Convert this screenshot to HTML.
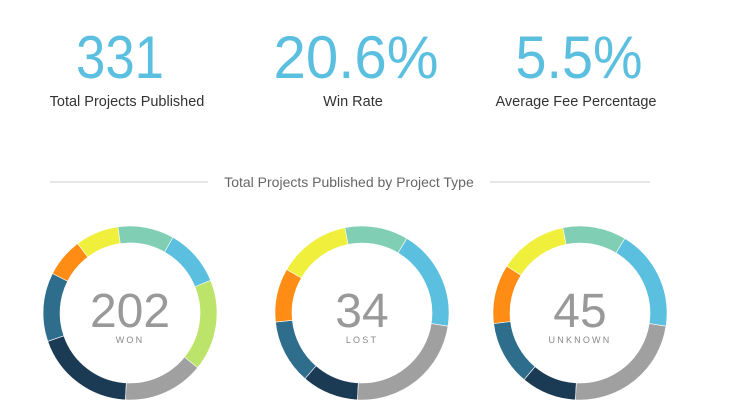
<!DOCTYPE html>
<html><head><meta charset="utf-8"><style>
body{margin:0;width:730px;height:420px;background:#fff;overflow:hidden;font-family:"Liberation Sans",sans-serif}
svg{display:block}
</style></head><body>
<svg id="chart" width="730" height="420">
<g>
<text x="120" y="78" text-anchor="middle" font-size="60" fill="#5bbfdf" textLength="88" lengthAdjust="spacingAndGlyphs">331</text>
<text x="127" y="106" text-anchor="middle" font-size="14.5" fill="#333">Total Projects Published</text>
</g>
<g>
<text x="356" y="78" text-anchor="middle" font-size="60" fill="#5bbfdf" textLength="165" lengthAdjust="spacingAndGlyphs">20.6%</text>
<text x="353" y="106" text-anchor="middle" font-size="14.5" fill="#333">Win Rate</text>
</g>
<g>
<text x="579" y="78" text-anchor="middle" font-size="60" fill="#5bbfdf" textLength="127" lengthAdjust="spacingAndGlyphs">5.5%</text>
<text x="576" y="106" text-anchor="middle" font-size="14.5" fill="#333">Average Fee Percentage</text>
</g>
<line x1="50" y1="182" x2="208" y2="182" stroke="#ccc"/>
<line x1="490" y1="182" x2="650" y2="182" stroke="#ccc"/>
<text x="349" y="187" text-anchor="middle" font-size="14" fill="#666">Total Projects Published by Project Type</text>
<g id="donuts"></g>
</svg>
<script>
// segment order: navy, steel, orange, yellow, mint, blue, lime, gray (degrees-share)
const categories = ["navy","steel","orange","yellow","mint","blue","lime","gray"];
const colors = ["#1b3a54","#2f6d8c","#ff8c14","#f0f03c","#80cfb4","#5bbfdf","#bce36a","#a0a0a0"];
const wonValues = [68,46,26,29,37.6,38.4,61,54];
const lostValues = [38,43,36,48.6,42.4,67.7,0,84.3];
const unknownValues = [37,43,39.6,46,42.4,67.7,0,84.3];
const donutTotals = ["202","34","45"];
const donutLabels = ["WON","LOST","UNKNOWN"];
const donutSeries = [wonValues, lostValues, unknownValues];
const centersX = [130,362,580];
const cy = 313, R = 87, r = 70, startDeg = 183;
const NS = "http://www.w3.org/2000/svg";
const root = document.getElementById("donuts");
function pt(rad, deg){const a=(deg-90)*Math.PI/180;return [rad*Math.cos(a),rad*Math.sin(a)];}
donutSeries.forEach((vals,i)=>{
  const cx=centersX[i];
  const g=document.createElementNS(NS,"g");
  
  
  const sum=vals.reduce((a,b)=>a+b,0);
  let ang=startDeg;
  vals.forEach((v,j)=>{
    if(v<=0) return;
    const sweep=v/sum*360, a0=ang, a1=ang+sweep; ang=a1;
    const [x0,y0]=pt(R,a0),[x1,y1]=pt(R,a1),[x2,y2]=pt(r,a1),[x3,y3]=pt(r,a0);
    const large=sweep>180?1:0;
    const p=document.createElementNS(NS,"path");
    p.setAttribute("d",`M${cx+x0},${cy+y0}A${R},${R} 0 ${large} 1 ${cx+x1},${cy+y1}L${cx+x2},${cy+y2}A${r},${r} 0 ${large} 0 ${cx+x3},${cy+y3}Z`);
    p.setAttribute("fill",colors[j]);
    p.setAttribute("stroke","#fff");p.setAttribute("stroke-width","0.6");
    
    
    g.appendChild(p);
  });
  const t=document.createElementNS(NS,"text");
  t.setAttribute("x",cx);t.setAttribute("y",327);t.setAttribute("text-anchor","middle");
  t.setAttribute("font-size","48");t.setAttribute("fill","#999");
  t.textContent=donutTotals[i];
  
  
  g.appendChild(t);
  const l=document.createElementNS(NS,"text");
  l.setAttribute("x",cx);l.setAttribute("y",343);l.setAttribute("text-anchor","middle");
  l.setAttribute("font-size","9");l.setAttribute("fill","#888");l.setAttribute("letter-spacing","2.2");
  l.textContent=donutLabels[i];
  
  
  g.appendChild(l);
  root.appendChild(g);
});
</script>
</body></html>
